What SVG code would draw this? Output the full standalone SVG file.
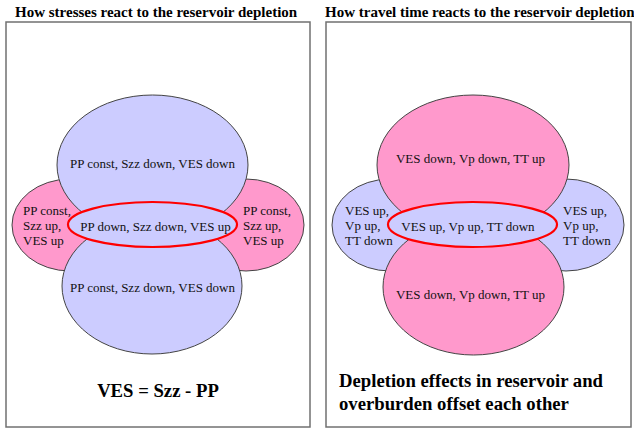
<svg xmlns="http://www.w3.org/2000/svg" width="634" height="428" viewBox="0 0 634 428">
<style>
.panel{fill:#fff;stroke:#707070;stroke-width:1.5}
.blue{fill:#CCCCFF;stroke:#444;stroke-width:1}
.pink{fill:#FF99CC;stroke:#444;stroke-width:1}
.redb{fill:#CCCCFF;stroke:#FF0000;stroke-width:2.2}
.t{font-family:"Liberation Serif","Times New Roman",serif;font-size:13px;fill:#111}
.c{text-anchor:middle}
.title{font-family:"Liberation Serif","Times New Roman",serif;font-size:15px;font-weight:bold;fill:#000}
.big{font-family:"Liberation Serif","Times New Roman",serif;font-size:18.7px;font-weight:bold;fill:#000}
</style>
<rect width="634" height="428" fill="#fff"/>
<text class="title" x="15" y="17">How stresses react to the reservoir depletion</text>
<text class="title" x="325" y="17">How travel time reacts to the reservoir depletion</text>
<g id="panel-left">
<rect class="panel" x="6" y="22" width="304" height="405"/>
<g id="left-lobe-l"><ellipse class="pink" cx="70" cy="225" rx="58" ry="46"/></g>
<g id="right-lobe-l"><ellipse class="pink" cx="246" cy="225" rx="58" ry="46"/></g>
<g id="top-l"><ellipse class="blue" cx="152.5" cy="165" rx="95.5" ry="70"/></g>
<g id="bottom-l"><ellipse class="blue" cx="152" cy="286" rx="90" ry="68"/></g>
<g id="res-l"><ellipse class="redb" cx="152.5" cy="224.5" rx="84.5" ry="22.5"/></g>
<text class="t" x="23" y="215">PP const,</text>
<text class="t" x="23" y="230">Szz up,</text>
<text class="t" x="23" y="245">VES up</text>
<text class="t" x="243" y="215">PP const,</text>
<text class="t" x="243" y="230">Szz up,</text>
<text class="t" x="243" y="245">VES up</text>
<text class="t c" x="152.5" y="168">PP const, Szz down, VES down</text>
<text class="t c" x="155.5" y="231">PP down, Szz down, VES up</text>
<text class="t c" x="152.5" y="292">PP const, Szz down, VES down</text>
<text class="big c" x="158" y="397">VES = Szz - PP</text>
</g>
<g id="panel-right">
<rect class="panel" x="326" y="22" width="305" height="405"/>
<g id="left-lobe-r"><ellipse class="blue" cx="390" cy="225" rx="58" ry="46"/></g>
<g id="right-lobe-r"><ellipse class="blue" cx="566" cy="225" rx="58" ry="46"/></g>
<g id="top-r"><ellipse class="pink" cx="473" cy="165" rx="96" ry="70"/></g>
<g id="bottom-r"><ellipse class="pink" cx="473.5" cy="287" rx="90.5" ry="68"/></g>
<g id="res-r"><ellipse class="redb" cx="472.5" cy="224.5" rx="84.5" ry="22.5"/></g>
<text class="t" x="345" y="215">VES up,</text>
<text class="t" x="345" y="230">Vp up,</text>
<text class="t" x="345" y="245">TT down</text>
<text class="t" x="563" y="215">VES up,</text>
<text class="t" x="563" y="230">Vp up,</text>
<text class="t" x="563" y="245">TT down</text>
<text class="t c" x="470.5" y="163">VES down, Vp down, TT up</text>
<text class="t c" x="468" y="231">VES up, Vp up, TT down</text>
<text class="t c" x="470.5" y="299">VES down, Vp down, TT up</text>
<text class="big" x="339" y="387">Depletion effects in reservoir and</text>
<text class="big" x="339" y="410">overburden offset each other</text>
</g>
</svg>
